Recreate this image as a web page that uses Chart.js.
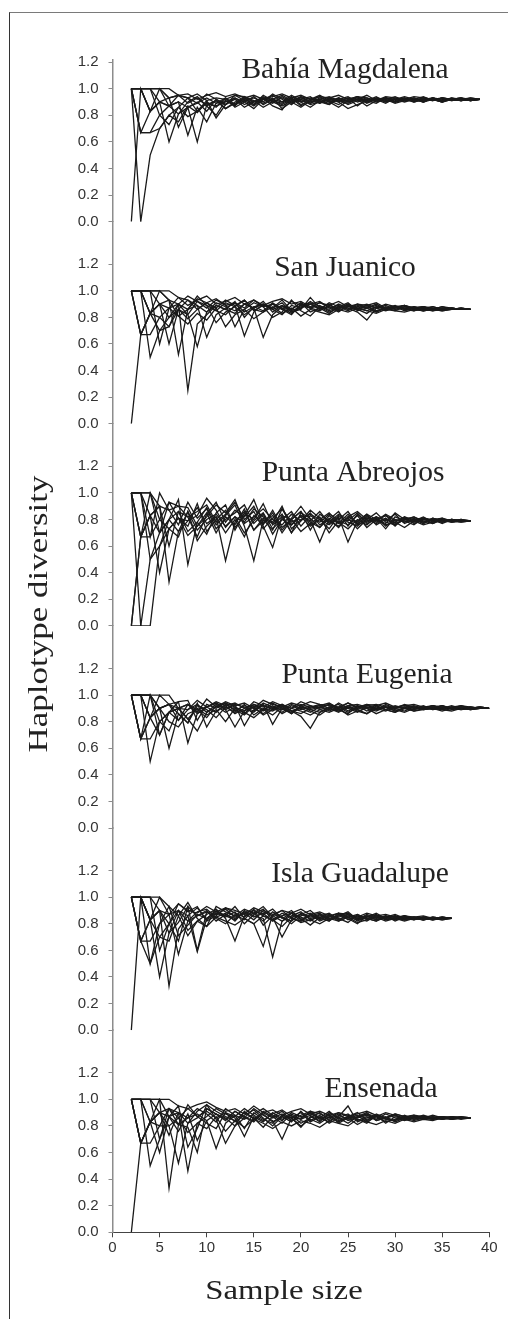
<!DOCTYPE html>
<html>
<head>
<meta charset="utf-8">
<script src="https://cdn.jsdelivr.net/npm/chart.js@4.4.1/dist/chart.umd.min.js"></script>
<style>
  html, body { margin: 0; padding: 0; background: #fff; }
  #wrap { position: relative; width: 508px; height: 1319px; overflow: hidden; }
  #frame { position: absolute; left: 9px; top: 12px; right: -4px; bottom: -4px;
           border-top: 1px solid #7a7a7a; border-left: 1px solid #333; }
  #chart { position: absolute; left: 0; top: 0; }
</style>
</head>
<body>
<div id="wrap">
  <div id="frame"></div>
  <canvas id="chart" width="508" height="1319"></canvas>
</div>
<script>
// sites, top to bottom
const sites = ["Bahía Magdalena", "San Juanico", "Punta Abreojos", "Punta Eugenia", "Isla Guadalupe", "Ensenada"];
const xTicks = [0, 5, 10, 15, 20, 25, 30, 35, 40];
const yTicks = [0, 0.2, 0.4, 0.6, 0.8, 1.0, 1.2];
const firstSampleSize = 2; // every curve starts at n = 2

// haplotype diversity per replicate, n = 2, 3, 4, ...
const bahiaMagdalena = [
  [1,1,1,1,.93,.95,.93,.96,.91,.93, .92,.95,.94,.9,.93,.92,.95,.91,.93,.9, .92,.94,.91,.93,.92,.9,.93,.91,.92,.93, .91,.92,.93,.91,.92,.92,.91,.92],
  [0,1,.83,.9,.87,.9,.86,.89,.93,.89, .91,.88,.93,.9,.94,.91,.88,.92,.9,.93, .91,.89,.92,.94,.9,.92,.91,.93,.9,.92, .91,.93,.92,.9,.92,.91,.92,.92],
  [1,0,.5,.7,.8,.86,.79,.83,.89,.87, .9,.93,.88,.91,.86,.9,.93,.89,.92,.88, .9,.93,.91,.89,.92,.9,.93,.92,.89,.91, .93,.91,.92,.9,.92,.93,.91,.92],
  [1,.67,.67,.7,.8,.75,.87,.82,.9,.86, .93,.88,.91,.87,.92,.95,.9,.93,.88,.91, .94,.9,.92,.88,.91,.93,.9,.92,.94,.91, .92,.9,.93,.91,.92,.91,.93,.92],
  [1,1,.83,.9,.6,.81,.86,.9,.83,.92, .88,.93,.9,.85,.92,.89,.94,.9,.86,.91, .89,.93,.9,.85,.88,.91,.94,.9,.92,.91, .93,.9,.92,.91,.93,.92,.91,.92],
  [1,1,1,.9,.93,.71,.86,.6,.88,.91, .85,.9,.93,.88,.95,.91,.89,.93,.87,.92, .9,.88,.93,.91,.94,.9,.92,.89,.93,.91, .92,.9,.93,.91,.92,.93,.91,.92],
  [1,1,1,1,.87,.9,.65,.86,.75,.89, .93,.86,.9,.94,.88,.92,.9,.95,.91,.89, .93,.91,.88,.92,.94,.91,.89,.93,.92,.9, .92,.94,.91,.93,.92,.91,.92,.92],
  [1,1,.83,1,.93,.95,.89,.93,.87,.8, .91,.87,.94,.91,.89,.93,.85,.9,.92,.94, .89,.92,.9,.93,.87,.92,.91,.93,.9,.92, .91,.93,.92,.9,.93,.91,.92,.92],
  [1,.67,.83,.9,.87,.95,.93,.89,.96,.92, .88,.95,.91,.93,.9,.96,.92,.88,.94,.92, .95,.91,.93,.9,.92,.95,.91,.93,.92,.94, .92,.91,.93,.92,.91,.92,.93,.92],
  [1,1,1,.8,.73,.86,.93,.83,.91,.78, .88,.92,.86,.9,.93,.87,.84,.94,.9,.86, .91,.88,.93,.9,.92,.87,.91,.93,.9,.92, .9,.92,.91,.93,.91,.92,.91,.92],
  [1,1,1,1,1,.95,.96,.92,.95,.97, .94,.96,.93,.95,.92,.94,.96,.93,.95,.92, .94,.93,.95,.92,.94,.93,.91,.94,.93,.92, .94,.93,.92,.93,.92,.93,.92,.92],
  [1,.67,.67,.8,.87,.81,.9,.94,.87,.91, .85,.89,.92,.88,.93,.9,.87,.91,.94,.89, .92,.9,.86,.91,.93,.89,.92,.9,.91,.93, .9,.92,.91,.93,.92,.91,.92,.92]
];
const sanJuanico = [
  [0,.67,.83,.9,.87,.81,.86,.89,.84,.91, .88,.85,.9,.87,.92,.84,.89,.86,.91,.87, .85,.89,.87,.9,.86,.88,.85,.87,.89,.86, .87,.88,.86,.87,.86,.87,.86],
  [1,1,.5,.7,.8,.86,.79,.86,.91,.85, .82,.89,.93,.86,.84,.9,.87,.83,.89,.91, .86,.88,.84,.89,.87,.85,.88,.86,.87,.89, .86,.85,.87,.86,.87,.86,.86],
  [1,1,1,.6,.87,.9,.82,.58,.84,.89, .86,.92,.8,.88,.85,.91,.86,.82,.9,.87, .89,.85,.88,.86,.9,.87,.84,.88,.86,.87, .88,.86,.85,.87,.86,.87,.86],
  [1,.67,.83,.9,.6,.86,.93,.89,.65,.82, .87,.91,.84,.88,.9,.86,.82,.89,.87,.92, .88,.84,.87,.89,.86,.83,.88,.87,.85,.88, .87,.85,.86,.88,.86,.87,.86],
  [1,1,1,1,.93,.52,.86,.94,.91,.87, .93,.89,.66,.84,.9,.87,.93,.85,.88,.9, .86,.91,.88,.85,.89,.87,.9,.86,.88,.85, .87,.86,.88,.86,.87,.86,.86],
  [1,1,.83,1,.93,.9,.25,.75,.82,.89, .86,.83,.9,.87,.65,.82,.88,.86,.91,.84, .87,.9,.85,.88,.86,.89,.84,.87,.88,.86, .85,.87,.86,.87,.86,.86,.86],
  [1,.67,.67,.8,.87,.95,.93,.86,.91,.94, .89,.91,.87,.93,.88,.9,.86,.92,.89,.87, .91,.88,.86,.9,.87,.89,.91,.87,.88,.86, .88,.87,.86,.88,.87,.86,.86],
  [1,1,1,.9,.8,.9,.96,.92,.87,.93, .9,.73,.86,.91,.88,.8,.84,.93,.85,.81, .88,.86,.9,.87,.84,.78,.87,.89,.86,.88, .86,.87,.85,.86,.87,.86,.86],
  [1,1,.83,.7,.73,.86,.82,.92,.89,.76, .84,.88,.82,.87,.9,.86,.89,.84,.87,.9, .92,.87,.89,.86,.88,.9,.87,.85,.87,.89, .87,.88,.86,.85,.86,.87,.86],
  [1,1,1,1,1,.95,.89,.93,.96,.9, .92,.95,.9,.93,.89,.92,.94,.9,.92,.88, .91,.89,.92,.88,.9,.89,.87,.9,.88,.89, .87,.88,.87,.86,.87,.86,.86],
  [1,.67,.83,.9,.93,.81,.75,.83,.78,.87, .73,.82,.86,.79,.84,.88,.83,.87,.81,.86, .84,.82,.86,.84,.87,.85,.83,.86,.85,.84, .86,.85,.86,.85,.86,.86,.86],
  [1,1,.83,.8,.73,.9,.86,.96,.89,.85, .91,.88,.93,.85,.89,.87,.91,.84,.86,.95, .87,.83,.88,.91,.85,.87,.89,.86,.88,.87, .85,.87,.88,.86,.87,.86,.86]
];
const puntaAbreojos = [
  [0,0,.5,.7,.8,.71,.86,.72,.8,.84, .75,.82,.7,.79,.85,.73,.8,.76,.83,.78, .74,.81,.77,.84,.76,.79,.82,.75,.8,.78, .81,.77,.8,.78,.79,.8,.79],
  [1,0,0,.6,.73,.81,.68,.75,.85,.7, .82,.76,.88,.72,.79,.83,.7,.8,.86,.76, .8,.73,.83,.78,.75,.81,.79,.83,.77,.8, .78,.81,.77,.8,.79,.78,.79],
  [1,1,.83,.9,.33,.71,.79,.89,.77,.82, .49,.78,.86,.72,.81,.77,.84,.7,.79,.85, .76,.8,.74,.82,.78,.84,.76,.8,.78,.82, .77,.8,.79,.78,.8,.79,.79],
  [1,1,1,.7,.8,.95,.46,.78,.89,.76, .83,.91,.75,.49,.8,.72,.88,.78,.82,.75, .8,.85,.78,.73,.8,.76,.82,.79,.84,.77, .8,.78,.81,.79,.78,.79,.79],
  [0,.67,.83,.9,.6,.86,.82,.67,.84,.93, .78,.87,.82,.9,.75,.59,.83,.8,.86,.72, .84,.79,.75,.82,.86,.8,.77,.81,.76,.8, .79,.82,.78,.8,.79,.8,.79],
  [1,.67,1,.8,.93,.81,.75,.92,.71,.8, .87,.74,.83,.95,.77,.85,.72,.81,.9,.8, .63,.8,.86,.75,.84,.78,.81,.73,.82,.79, .76,.81,.8,.77,.8,.79,.79],
  [1,1,.67,1,.87,.9,.82,.86,.91,.78, .84,.93,.8,.86,.73,.81,.88,.76,.83,.79, .86,.77,.82,.63,.79,.84,.8,.77,.85,.8, .82,.78,.8,.81,.78,.79,.79],
  [1,.67,.83,.4,.73,.67,.86,.64,.75,.82, .7,.8,.67,.83,.76,.87,.74,.8,.71,.77, .82,.7,.79,.76,.83,.74,.8,.76,.78,.74, .79,.76,.78,.8,.78,.79,.79],
  [1,1,1,.9,.87,.76,.93,.81,.88,.73, .8,.85,.91,.77,.84,.69,.8,.86,.75,.83, .78,.84,.8,.86,.76,.83,.78,.81,.75,.82, .8,.77,.81,.79,.8,.79,.79],
  [0,.67,.67,.8,.73,.81,.79,.83,.96,.87, .74,.82,.78,.88,.82,.78,.9,.73,.8,.84, .8,.76,.81,.79,.85,.77,.8,.83,.79,.81, .78,.8,.79,.81,.79,.79,.79],
  [1,1,.5,.6,.8,.86,.71,.78,.69,.85, .91,.72,.85,.8,.92,.76,.82,.7,.85,.81, .74,.83,.77,.81,.73,.8,.85,.78,.76,.8, .82,.79,.77,.8,.79,.78,.79],
  [1,.67,.83,.7,.93,.9,.89,.75,.82,.91, .85,.95,.77,.82,.88,.8,.76,.84,.79,.87, .81,.78,.84,.8,.77,.82,.79,.84,.8,.78, .8,.81,.79,.78,.8,.79,.79]
];
const puntaEugenia = [
  [1,.67,.83,.9,.93,.9,.93,.89,.91,.95, .92,.94,.9,.93,.91,.95,.92,.9,.93,.91, .92,.94,.9,.92,.93,.91,.89,.92,.9,.91, .92,.9,.91,.92,.9,.91,.9,.9,.9],
  [1,1,.5,.8,.87,.81,.89,.93,.87,.91, .94,.88,.92,.9,.86,.91,.93,.88,.9,.92, .89,.91,.93,.88,.91,.9,.92,.89,.91,.9, .89,.91,.9,.92,.9,.89,.9,.91,.9],
  [1,1,1,.9,.6,.86,.79,.92,.89,.83, .91,.87,.93,.85,.9,.88,.92,.86,.91,.89, .87,.9,.88,.92,.89,.86,.9,.91,.88,.9, .91,.89,.9,.88,.9,.91,.9,.9,.9],
  [1,1,.83,1,.93,.95,.64,.86,.91,.87, .93,.89,.85,.92,.88,.94,.9,.87,.92,.89, .91,.93,.89,.9,.92,.88,.91,.89,.92,.9, .91,.9,.92,.9,.91,.9,.89,.9,.9],
  [1,.67,.67,.8,.73,.9,.82,.73,.87,.93, .89,.76,.88,.91,.85,.89,.93,.88,.86,.9, .92,.88,.91,.87,.9,.93,.89,.91,.88,.9, .89,.91,.9,.89,.91,.9,.9,.91,.9],
  [1,1,1,1,1,.9,.93,.86,.91,.94, .9,.93,.77,.89,.92,.9,.87,.92,.89,.91, .93,.9,.88,.91,.89,.92,.9,.88,.91,.92, .9,.91,.89,.9,.92,.9,.91,.9,.9],
  [1,1,.83,.9,.8,.76,.86,.89,.83,.92, .87,.91,.86,.93,.89,.85,.91,.88,.84,.75, .87,.91,.89,.86,.92,.9,.88,.91,.89,.87, .9,.92,.89,.91,.9,.89,.9,.9,.9],
  [1,1,1,.7,.87,.95,.96,.81,.93,.9, .94,.91,.88,.95,.92,.89,.93,.9,.95,.92, .9,.93,.91,.94,.9,.92,.93,.91,.9,.93, .91,.9,.92,.91,.9,.92,.91,.9,.9],
  [1,.67,.83,.9,.93,.86,.79,.94,.76,.88, .92,.86,.9,.87,.93,.78,.9,.86,.92,.88, .85,.9,.87,.91,.88,.86,.92,.89,.87,.91, .88,.9,.91,.89,.9,.91,.89,.9,.9],
  [1,1,.83,.7,.87,.9,.89,.96,.91,.94, .89,.93,.91,.88,.94,.91,.89,.93,.9,.87, .91,.89,.94,.9,.87,.91,.89,.93,.9,.88, .91,.89,.9,.92,.89,.9,.91,.9,.9],
  [1,1,1,.9,.93,.81,.93,.87,.97,.91, .95,.92,.94,.9,.96,.93,.91,.94,.92,.95, .93,.92,.9,.94,.91,.93,.92,.94,.91,.92, .93,.91,.92,.9,.91,.92,.9,.91,.9],
  [1,.67,1,.8,.87,.9,.82,.9,.85,.89, .8,.9,.87,.83,.89,.92,.86,.9,.88,.85, .89,.87,.9,.85,.88,.9,.86,.89,.87,.9, .88,.89,.9,.89,.88,.9,.89,.9,.9]
];
const islaGuadalupe = [
  [0,1,.83,.9,.87,.9,.82,.86,.89,.87, .91,.85,.88,.9,.86,.83,.88,.85,.87,.84, .86,.88,.83,.87,.85,.84,.86,.83,.85,.84, .85,.84,.83,.84,.84],
  [1,.67,.5,.7,.8,.9,.86,.92,.83,.88, .85,.89,.8,.87,.91,.83,.86,.88,.82,.87, .84,.86,.82,.85,.87,.83,.85,.84,.86,.83, .84,.85,.84,.83,.84],
  [1,1,.83,.4,.73,.9,.75,.82,.87,.91, .84,.67,.86,.88,.82,.89,.85,.8,.86,.88, .83,.86,.84,.81,.87,.84,.82,.85,.83,.86, .84,.83,.85,.84,.84],
  [1,1,1,.9,.33,.76,.86,.59,.84,.89, .86,.93,.84,.8,.63,.87,.9,.84,.82,.86, .88,.83,.85,.87,.82,.85,.87,.83,.84,.86, .83,.85,.84,.84,.84],
  [1,.67,.67,.8,.87,.57,.82,.89,.91,.85, .88,.82,.9,.86,.84,.55,.82,.86,.89,.83, .85,.87,.83,.86,.84,.82,.86,.85,.83,.85, .84,.83,.85,.84,.84],
  [1,1,.83,1,.93,.86,.96,.84,.78,.93, .89,.86,.91,.88,.93,.85,.7,.83,.87,.9, .84,.82,.88,.85,.83,.87,.84,.86,.82,.85, .85,.84,.83,.85,.84],
  [1,1,1,.6,.8,.95,.89,.93,.82,.86, .92,.88,.85,.9,.87,.91,.84,.88,.85,.82, .87,.84,.86,.89,.83,.85,.88,.84,.86,.83, .85,.84,.85,.84,.84],
  [1,.67,.83,.9,.73,.81,.93,.6,.89,.84, .8,.87,.83,.91,.79,.86,.82,.88,.84,.79, .85,.82,.87,.84,.8,.86,.83,.85,.84,.82, .84,.85,.83,.84,.84],
  [1,1,.5,.8,.93,.71,.79,.87,.84,.9, .86,.83,.89,.85,.88,.82,.86,.9,.83,.87, .82,.85,.88,.83,.86,.84,.82,.86,.85,.84, .83,.85,.84,.85,.84],
  [1,1,1,1,.87,.95,.9,.88,.93,.89, .92,.9,.87,.92,.89,.86,.9,.88,.91,.87, .89,.86,.88,.87,.85,.88,.86,.87,.85,.86, .85,.86,.84,.85,.84],
  [1,.67,.83,.7,.67,.86,.71,.82,.78,.85, .82,.79,.84,.8,.86,.83,.78,.85,.81,.83, .8,.84,.82,.85,.81,.83,.85,.82,.84,.83, .84,.83,.84,.83,.84],
  [1,1,.83,.9,.8,.67,.93,.86,.9,.82, .87,.84,.88,.83,.9,.87,.85,.82,.88,.85, .87,.83,.86,.88,.84,.86,.83,.85,.87,.84, .85,.83,.84,.85,.84]
];
const ensenada = [
  [0,.67,.83,.9,.87,.9,.82,.86,.93,.89, .85,.91,.87,.83,.9,.86,.89,.84,.88,.91, .86,.83,.88,.85,.87,.9,.84,.86,.88,.85, .87,.86,.85,.87,.86,.86,.86],
  [1,1,.5,.7,.87,.81,.86,.89,.84,.63, .82,.88,.78,.9,.85,.82,.88,.86,.79,.87, .84,.89,.82,.86,.88,.83,.87,.85,.84,.87, .85,.86,.87,.85,.86,.86,.86],
  [1,1,1,1,.33,.81,.79,.6,.93,.89, .84,.91,.86,.93,.88,.84,.7,.86,.9,.83, .87,.85,.89,.84,.86,.88,.85,.87,.83,.86, .88,.85,.86,.87,.86,.85,.86],
  [1,.67,.83,.9,.8,.52,.82,.91,.96,.85, .67,.8,.86,.84,.91,.87,.82,.89,.85,.88, .83,.9,.86,.82,.87,.89,.84,.86,.88,.85, .86,.87,.85,.86,.87,.86,.86],
  [1,1,1,.7,.93,.9,.46,.82,.87,.93, .89,.86,.72,.87,.83,.9,.85,.88,.82,.86, .9,.84,.87,.95,.83,.86,.88,.82,.87,.85, .87,.85,.86,.85,.87,.86,.86],
  [1,1,.83,1,.87,.95,.64,.78,.96,.91, .87,.84,.9,.86,.79,.87,.91,.84,.86,.9, .85,.88,.83,.87,.85,.82,.89,.86,.84,.88, .85,.87,.86,.87,.85,.86,.86],
  [1,.67,.67,.8,.93,.86,.93,.87,.82,.78, .9,.83,.88,.92,.86,.8,.87,.83,.91,.84, .88,.82,.86,.89,.84,.87,.85,.89,.86,.84, .86,.88,.86,.85,.86,.87,.86],
  [1,1,1,.9,.73,.9,.86,.93,.89,.83, .93,.88,.85,.89,.93,.88,.84,.9,.87,.89, .86,.91,.85,.87,.9,.84,.88,.86,.89,.87, .86,.85,.87,.86,.86,.86,.86],
  [1,.67,.83,.6,.87,.76,.89,.69,.84,.89, .86,.8,.91,.85,.89,.83,.87,.86,.8,.85, .82,.87,.84,.86,.81,.85,.87,.83,.85,.86, .84,.86,.85,.86,.85,.86,.86],
  [1,1,1,1,1,.95,.93,.96,.98,.94, .91,.93,.89,.95,.9,.92,.88,.91,.93,.89, .91,.88,.9,.87,.89,.91,.88,.86,.89,.87, .88,.87,.86,.87,.86,.87,.86],
  [1,1,.83,.8,.8,.86,.75,.82,.78,.87, .76,.84,.79,.85,.82,.78,.83,.8,.84,.82, .79,.84,.82,.8,.85,.83,.81,.84,.82,.85, .83,.85,.84,.86,.85,.86,.86],
  [1,.67,.83,.9,.93,.81,.96,.87,.91,.86, .9,.87,.93,.88,.84,.89,.92,.87,.85,.91, .89,.86,.9,.88,.86,.89,.87,.9,.88,.86, .87,.86,.88,.86,.87,.86,.86]
];
const panels = [bahiaMagdalena, sanJuanico, puntaAbreojos, puntaEugenia, islaGuadalupe, ensenada];

// layout of the site labels (px): centre x, baseline offset below the 1.2 tick
const titleX = [345, 345, 353, 367, 360, 381];
const titleDy = [16, 12, 15, 15, 11, 24];

Chart.defaults.font.family = "'Liberation Sans', Arial, sans-serif";
Chart.defaults.color = "#333";

const datasets = [];
panels.forEach((lines, p) => {
  lines.forEach(vals => {
    datasets.push({
      data: vals.map((v, i) => ({ x: firstSampleSize + i, y: v })),
      yAxisID: "y" + p,
      borderColor: "#1a1a1a",
      borderWidth: 1.3,
      pointRadius: 0,
      tension: 0,
      fill: false
    });
  });
});

const scales = {
  x: {
    type: "linear",
    position: "bottom",
    min: 0,
    max: 40,
    afterBuildTicks: s => { s.ticks = xTicks.map(v => ({ value: v })); },
    afterFit: s => { s.height = 30; },
    ticks: { color: "#333", font: { size: 15 }, padding: 2, maxRotation: 0, autoSkip: false },
    grid: { drawOnChartArea: false, tickLength: 5, color: "#444" },
    border: { color: "#444", width: 1 }
  }
};
sites.forEach((name, p) => {
  const top = p === 0 ? 1.22 : 1.52;
  scales["y" + p] = {
    type: "linear",
    position: "left",
    stack: "sites",
    stackWeight: top,
    weight: sites.length - p,
    min: 0,
    max: top,
    afterBuildTicks: s => { s.ticks = yTicks.map(v => ({ value: v })); },
    afterFit: s => { s.width = 60; },
    ticks: { color: "#333", font: { size: 15 }, padding: 10, autoSkip: false, callback: v => v.toFixed(1) },
    grid: { drawOnChartArea: false, tickLength: 4, color: "#8c8c8c" },
    border: { color: "#8c8c8c", width: 1.5 }
  };
});

const labelPlugin = {
  id: "siteLabels",
  afterDraw(chart) {
    const ctx = chart.ctx;
    ctx.save();
    ctx.fillStyle = "#222";
    ctx.textAlign = "center";
    ctx.textBaseline = "alphabetic";
    ctx.font = "29.5px 'Liberation Serif'";
    sites.forEach((name, p) => {
      const y = chart.scales["y" + p].getPixelForValue(1.2) + titleDy[p];
      ctx.fillText(name, titleX[p], y);
    });

    // y axis title
    ctx.save();
    ctx.translate(40, 614);
    ctx.rotate(-Math.PI / 2);
    ctx.scale(1.25, 1);
    ctx.font = "28px 'Liberation Serif'";
    ctx.textBaseline = "middle";
    ctx.fillText("Haplotype diversity", 0, 0);
    ctx.restore();

    // x axis title
    ctx.save();
    ctx.translate(284, 1299);
    ctx.scale(1.17, 1);
    ctx.font = "28px 'Liberation Serif'";
    ctx.fillText("Sample size", 0, 0);
    ctx.restore();

    ctx.restore();
  }
};

new Chart(document.getElementById("chart").getContext("2d"), {
  type: "line",
  data: { datasets },
  options: {
    responsive: false,
    animation: false,
    events: [],
    layout: { padding: { left: 52.5, top: 59.4, right: 18.7, bottom: 56.7 } },
    plugins: { legend: { display: false }, tooltip: { enabled: false } },
    scales
  },
  plugins: [labelPlugin]
});
</script>
</body>
</html>
